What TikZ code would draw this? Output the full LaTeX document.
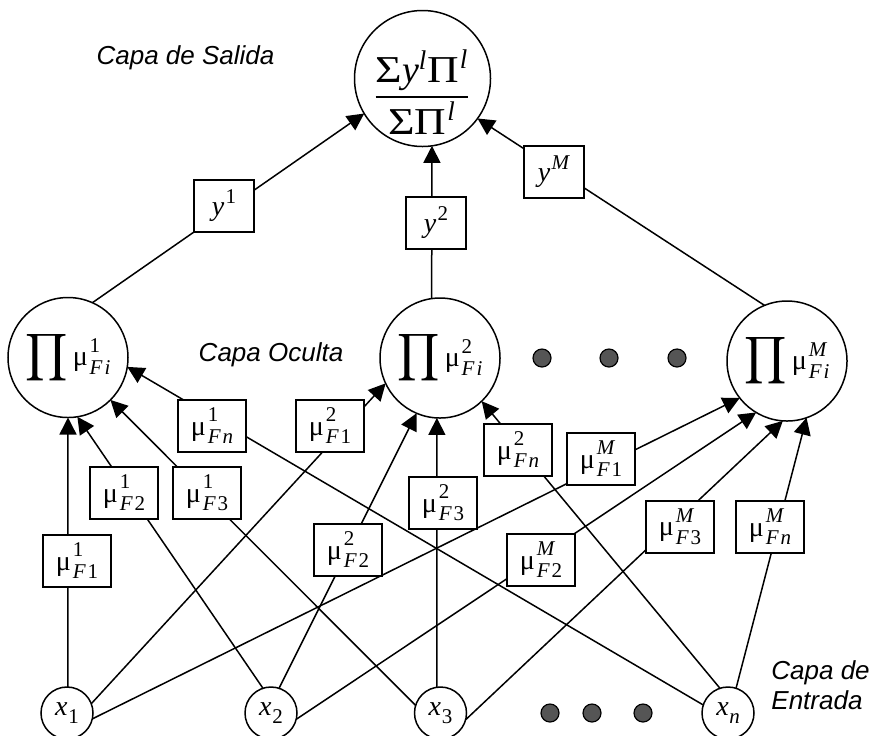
\documentclass[tikz,border=0pt]{standalone}
\usepackage{amsmath}
\usepackage{graphicx}
\usepackage{fontspec}
\setmainfont{Liberation Serif}
\newfontfamily\labfont{Liberation Sans}
\usetikzlibrary{arrows.meta}
\DeclareMathSizes{19}{19}{13.5}{10}
\newcommand\ii[1]{\text{\itshape #1}}
\newcommand\scsz{\fontsize{10.5}{11}\selectfont}
\newdimen\wsd
\newbox\wsa
\newbox\wsb
% base with stacked superscript and subscript
\newcommand\ws[3]{#1\kern0.9pt\setbox\wsa\hbox{\scsz #2}\setbox\wsb\hbox{\scsz #3}%
  \ifdim\wd\wsa>\wd\wsb \wsd=\wd\wsa \else \wsd=\wd\wsb \fi
  \rlap{\raisebox{6.6pt}{\box\wsa}}\rlap{\raisebox{-4.4pt}{\box\wsb}}\kern\wsd}
\newcommand\wsup[2]{#1\kern0.7pt\raisebox{6pt}{\scsz #2}}
\newcommand\wsub[2]{#1\kern0.3pt\raisebox{-3.8pt}{\scsz #2}}
\newcommand\bigprod{\scalebox{1.15}{$\displaystyle\prod$}\kern2.5pt}
\newcommand\mF[1]{\textit{F}\kern0.9pt #1}
\definecolor{dotgray}{RGB}{85,85,85}
\tikzset{
  conn/.style={line width=0.75pt, -{Triangle[length=8.5pt,width=8.5pt]}},
  hid/.style={circle, draw, line width=0.75pt, fill=white, minimum size=60pt, inner sep=0pt, outer sep=0pt, font=\fontsize{14}{16}\selectfont},
  outc/.style={circle, draw, line width=0.75pt, fill=white, minimum size=68pt, inner sep=0pt, outer sep=0pt},
  inp/.style={circle, draw, line width=0.75pt, fill=white, minimum size=26pt, inner sep=0pt, outer sep=0pt, font=\fontsize{14}{16}\selectfont},
  wbox/.style={draw, line width=0.75pt, fill=white, minimum width=34pt, minimum height=26pt, inner sep=0pt, font=\fontsize{14}{16}\selectfont},
  ybox/.style={wbox, minimum width=30pt},
  dotn/.style={circle, draw, line width=0.6pt, fill=dotgray, minimum size=9pt, inner sep=0pt},
  layer/.style={font=\labfont\itshape\fontsize{13}{15}\selectfont, inner sep=0pt}
}
\begin{document}
\begin{tikzpicture}[x=0.5pt,y=-0.5pt]
\useasboundingbox (0,0) rectangle (870,735);
% layer labels
\node[layer] (ls) at (185.5,58) {Capa de Salida};
\node[layer] (lo) at (271,355) {Capa Oculta};
\node[layer, anchor=west, align=left] (le) at (771,685) {Capa de\\Entrada};
% output
\node[outc] (out) at (422.5,78.5) {};
\node[inner sep=0pt] (outtxt) at (422,92) {\fontsize{19}{22}\selectfont$\dfrac{\scalebox{1.2}[1]{Σ}\ii{y}^{\ii{l}}\scalebox{1.15}[1]{Π}^{\ii{\kern0.5pt l}}}{\scalebox{1.2}[1]{Σ}\scalebox{1.15}[1]{Π}^{\ii{\kern0.5pt l}}}$};
% hidden
\node[hid] (h1) at (68,357.5) {\bigprod\ws{μ}{1}{\textit{F\kern1pt i}}};
\node[hid] (h2) at (440,358) {\bigprod\ws{μ}{2}{\textit{F\kern1pt i}}};
\node[hid] (hM) at (787,361) {\bigprod\ws{μ}{\textit{M}}{\textit{F\kern1pt i}}};
\node[dotn] (d1) at (542,358) {};
\node[dotn] (d2) at (609,358) {};
\node[dotn] (d3) at (677,358) {};
% inputs
\node[inp] (x1) at (67,713) {\wsub{\textit{x}}{1}};
\node[inp] (x2) at (271,713) {\wsub{\textit{x}}{2}};
\node[inp] (x3) at (440.5,713) {\wsub{\textit{x}}{3}};
\node[inp] (xn) at (728,713) {\wsub{\textit{x}}{\textit{n}}};
\node[dotn] (e1) at (550,713) {};
\node[dotn] (e2) at (592,713) {};
\node[dotn] (e3) at (643,713) {};
% input to hidden
\draw[conn] (x1.88) -- (h1.270);
\draw[conn] (x1.21) -- (h2.205);
\draw[conn] (x1.347) -- (hM.218);
\draw[conn] (x2.108) -- (h1.279);
\draw[conn] (x2.72) -- (h2.247);
\draw[conn] (x2.346) -- (hM.239);
\draw[conn] (x3.163) -- (h1.315);
\draw[conn] (x3.98) -- (h2.267);
\draw[conn] (x3.345) -- (hM.266);
\draw[conn] (xn.162) -- (h1.351);
\draw[conn] (xn.108) -- (h2.314);
\draw[conn] (xn.72) -- (hM.289);
% hidden to output
\draw[conn] (h1.66) -- (out.211);
\draw[conn] (h2.98) -- (out.278);
\draw[conn] (hM.112) -- (out.324);
% weight boxes
\node[wbox] (m11) at (77,561) {\ws{μ}{1}{\mF{1}}};
\node[wbox] (m12) at (124,493) {\ws{μ}{1}{\mF{2}}};
\node[wbox] (m13) at (207,493) {\ws{μ}{1}{\mF{3}}};
\node[wbox] (m1n) at (212,426) {\ws{μ}{1}{\mF{\textit{n}}}};
\node[wbox] (m21) at (330,426) {\ws{μ}{2}{\mF{1}}};
\node[wbox] (m22) at (348,550) {\ws{μ}{2}{\mF{2}}};
\node[wbox] (m23) at (443,503) {\ws{μ}{2}{\mF{3}}};
\node[wbox] (m2n) at (518,450) {\ws{μ}{2}{\mF{\textit{n}}}};
\node[wbox] (mM1) at (601,459) {\ws{μ}{\textit{M}}{\mF{1}}};
\node[wbox] (mM2) at (541,560) {\ws{μ}{\textit{M}}{\mF{2}}};
\node[wbox] (mM3) at (680,527) {\ws{μ}{\textit{M}}{\mF{3}}};
\node[wbox] (mMn) at (770,527) {\ws{μ}{\textit{M}}{\mF{\textit{n}}}};
\node[ybox] (y1) at (224,206) {\wsup{\textit{y}}{1}};
\node[ybox] (y2) at (436,223) {\wsup{\textit{y}}{2}};
\node[ybox] (yM) at (554,172) {\wsup{\textit{y}}{\textit{M}}};
\end{tikzpicture}
\end{document}
